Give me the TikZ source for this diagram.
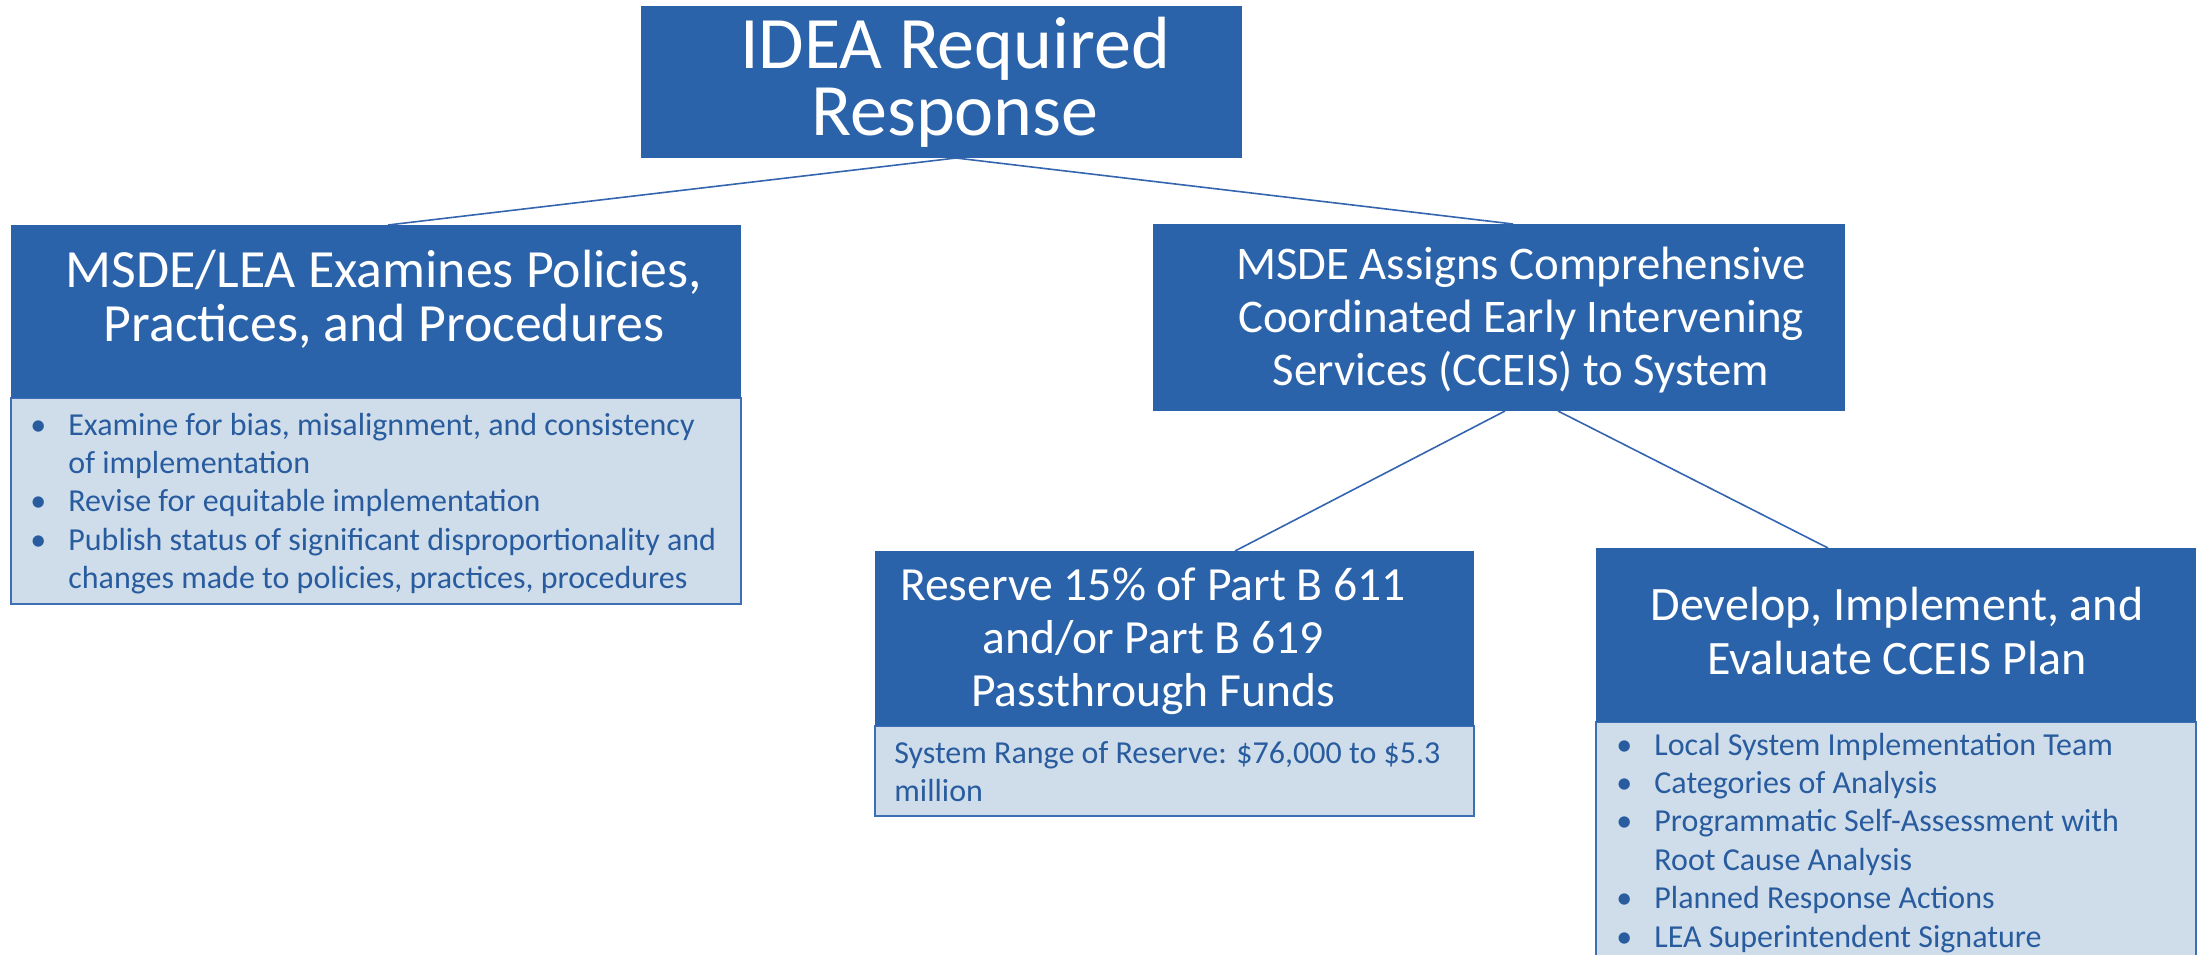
\documentclass[tikz,border=0pt]{standalone}
\usepackage{fontspec}
\setmainfont{Carlito}
\usetikzlibrary{fit}
\definecolor{hdrblue}{RGB}{43,99,171}
\definecolor{bodyfill}{RGB}{207,221,235}
\definecolor{bodyline}{RGB}{61,111,181}
\definecolor{bodytext}{RGB}{40,92,158}
\definecolor{linkblue}{RGB}{52,101,174}
\newcommand{\hdrlines}[1]{\begin{tabular}[t]{@{}c@{}}#1\end{tabular}}
\newcommand{\plainlines}[1]{\begin{tabular}[t]{@{}l@{}}#1\end{tabular}}
\newcommand{\bulletlist}[1]{\begin{tabular}[t]{@{}p{19pt}@{}l@{}}#1\end{tabular}}
\begin{document}
\begin{tikzpicture}[x=.5pt,y=-.5pt,
  hdr/.style={fill=hdrblue,inner sep=0pt},
  body/.style={fill=bodyfill,draw=bodyline,line width=1pt,inner sep=0pt},
  hdrtxt/.style={text=white,inner sep=0pt,anchor=base},
  bodytxt/.style={text=bodytext,inner sep=0pt,anchor=base west,font=\fontsize{16}{19.2}\selectfont},
  link/.style={draw=linkblue,line width=.8pt}]
  \path[use as bounding box] (0,0) rectangle (2205,954);
  % boxes
  \node[hdr,fit={(641,6)(1242,158)}] (idea) {};
  \node[body,fit={(11,398)(741,604)}] (examinebody) {};
  \node[hdr,fit={(11,225)(741,398)}] (examine) {};
  \node[hdr,fit={(1153,224)(1845,411)}] (cceis) {};
  \node[body,fit={(875,726)(1474,816)}] (reservebody) {};
  \node[hdr,fit={(875,551)(1474,726)}] (reserve) {};
  \node[body,fit={(1596,722)(2196,970)}] (planbody) {};
  \node[hdr,fit={(1596,548)(2196,722)}] (plan) {};
  % connector ends
  \coordinate (ideaout) at (956,158);
  \coordinate (examinein) at (388,225);
  \coordinate (cceisin) at (1513,224);
  \coordinate (cceisoutl) at (1505,411);
  \coordinate (cceisoutr) at (1558,411);
  \coordinate (reservein) at (1235,551);
  \coordinate (planin) at (1828,548);
  \draw[link] (ideaout)--(examinein) (ideaout)--(cceisin);
  \draw[link] (cceisoutl)--(reservein) (cceisoutr)--(planin);
  % headings
  \node[hdrtxt,font=\fontsize{37}{33.5}\selectfont] (ideatxt) at (955,68)
    {\hdrlines{IDEA Required\\Response}};
  \node[hdrtxt,font=\fontsize{26.9}{27}\selectfont] (examinetxt) at (384,287)
    {\hdrlines{MSDE/LEA Examines Policies,\\Practices, and Procedures}};
  \node[hdrtxt,font=\fontsize{23.4}{26.5}\selectfont] (cceistxt) at (1521,279)
    {\hdrlines{MSDE Assigns Comprehensive\\Coordinated Early Intervening\\Services (CCEIS) to System}};
  \node[hdrtxt,font=\fontsize{23.8}{26.7}\selectfont] (reservetxt) at (1153,600)
    {\hdrlines{Reserve 15\% of Part B 611\\and/or Part B 619\\Passthrough Funds}};
  \node[hdrtxt,font=\fontsize{24}{27}\selectfont] (plantxt) at (1897,620)
    {\hdrlines{Develop, Implement, and\\Evaluate CCEIS Plan}};
  % lists
  \node[bodytxt] (examinelist) at (30,435) {\bulletlist{%
    \textbullet & Examine for bias, misalignment, and consistency\\
    & of implementation\\
    \textbullet & Revise for equitable implementation\\
    \textbullet & Publish status of significant disproportionality and\\
    & changes made to policies, practices, procedures}};
  \node[bodytxt] (reservelist) at (894,763)
    {\plainlines{System Range of Reserve: \$76,000 to \$5.3\\million}};
  \node[bodytxt] (planlist) at (1616,755) {\bulletlist{%
    \textbullet & Local System Implementation Team\\
    \textbullet & Categories of Analysis\\
    \textbullet & Programmatic Self-Assessment with\\
    & Root Cause Analysis\\
    \textbullet & Planned Response Actions\\
    \textbullet & LEA Superintendent Signature}};
\end{tikzpicture}
\end{document}
